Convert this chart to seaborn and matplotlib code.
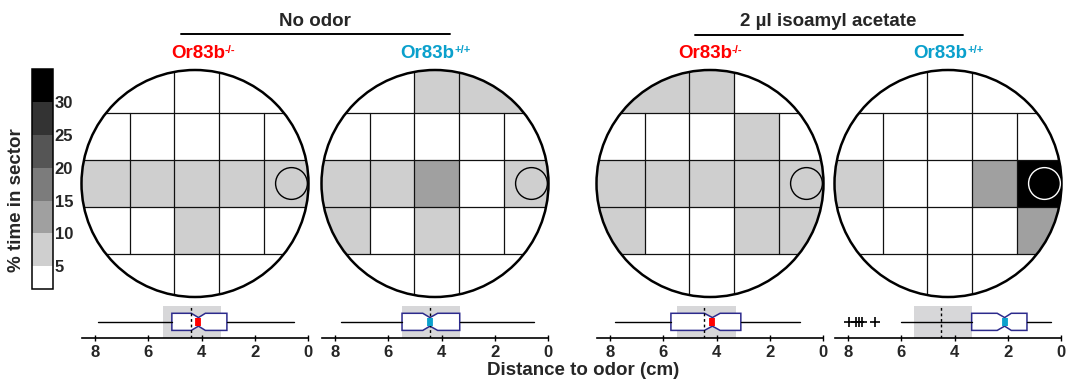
import numpy as np
import matplotlib
matplotlib.use("Agg")
import matplotlib.pyplot as plt
import seaborn as sns
from matplotlib.colors import ListedColormap, BoundaryNorm
from matplotlib.cm import ScalarMappable
from matplotlib.patches import Circle

# ------------------------------------------------------------------ data
condition_titles = ["No odor", "2 µl isoamyl acetate"]
genotype_names = ["Or83b", "Or83b", "Or83b", "Or83b"]
genotype_sups = ["-/-", "+/+", "-/-", "+/+"]
genotype_colors = ["#ff0000", "#0aa0cc", "#ff0000", "#0aa0cc"]

# % time in sector: top row (3 sectors), three middle rows (5 each), bottom row (3)
sector_no_odor_mut = [3, 4, 3,
                      3, 4, 4, 4, 3,
                      8, 8, 8, 8, 7,
                      3, 4, 8, 4, 3,
                      3, 4, 3]
sector_no_odor_wt = [4, 7, 6,
                     3, 4, 4, 4, 3,
                     7, 8, 12, 4, 6,
                     6, 4, 7, 3, 2,
                     1, 3, 2]
sector_iaa_mut = [6, 7, 3,
                  3, 3, 4, 7, 3,
                  7, 7, 7, 7, 7,
                  6, 3, 3, 7, 6,
                  2, 3, 2]
sector_iaa_wt = [2, 2, 2,
                 2, 2, 2, 3, 3,
                 7, 2, 3, 13, 33,
                 2, 2, 2, 4, 12,
                 1, 1, 2]
sector_data = [sector_no_odor_mut, sector_no_odor_wt, sector_iaa_mut, sector_iaa_wt]

cbar_bounds = [1.5, 5, 10, 15, 20, 25, 30, 35]
cbar_ticks = [5, 10, 15, 20, 25, 30]
cbar_label = "% time in sector"

# distance-to-odor box statistics (cm)
box_med = [4.12, 4.44, 4.16, 2.12]
box_q1 = [3.05, 3.32, 3.09, 1.28]
box_q3 = [5.12, 5.49, 5.72, 3.36]
box_cilo = [3.86, 4.15, 3.87, 1.87]
box_cihi = [4.39, 4.71, 4.46, 2.40]
box_whislo = [0.51, 0.53, 0.88, 0.38]
box_whishi = [7.90, 7.78, 7.81, 6.02]
box_fliers = [[], [], [], [7.00, 7.50, 7.59, 7.71, 7.96]]
null_lo = [3.26, 3.30, 3.27, 3.36]
null_hi = [5.46, 5.49, 5.50, 5.52]
null_med = [4.39, 4.44, 4.46, 4.50]
dist_ticks = [8, 6, 4, 2, 0]
dist_label = "Distance to odor (cm)"

# ------------------------------------------------------------------ style
sns.set_theme(style="white")
plt.rcParams["font.family"] = ["Liberation Sans", "DejaVu Sans"]
plt.rcParams["font.weight"] = "bold"

W, H = 1068, 381
fig = plt.figure(figsize=(W / 100, H / 100), dpi=100)
fig.patch.set_facecolor("white")


def px_axes(x0, y0, x1, y1, **kw):
    return fig.add_axes([x0 / W, 1 - y1 / H, (x1 - x0) / W, (y1 - y0) / H], **kw)


grey_colors = ["#ffffff", "#cfcfcf", "#a0a0a0", "#7c7c7c", "#555555", "#333333", "#000000"]
cmap = ListedColormap(grey_colors)
norm = BoundaryNorm(cbar_bounds, cmap.N, clip=True)

centers_x = [195, 435, 710, 948]
center_y = 183.5
r_px = 113.5
pad = 1.04

grid_shift = 0.015
x_edges = np.array([-1.0, -0.59, -0.197, 0.197, 0.59, 1.0]) + np.array([0, 1, 1, 1, 1, 0]) * grid_shift
y_edges = np.array([-1.0, -0.625, -0.21, 0.21, 0.625, 1.0])


def sectors_to_grid(vals):
    top = vals[0:3]
    mid = np.array(vals[3:18], dtype=float).reshape(3, 5)
    bot = vals[18:21]
    g = np.zeros((5, 5))
    g[0] = [bot[0], bot[0], bot[1], bot[2], bot[2]]
    g[1] = mid[2]
    g[2] = mid[1]
    g[3] = mid[0]
    g[4] = [top[0], top[0], top[1], top[2], top[2]]
    return g


for i, vals in enumerate(sector_data):
    cx = centers_x[i]
    R = r_px * pad
    ax = px_axes(cx - R, center_y - R, cx + R, center_y + R)
    ax.set_xlim(-pad, pad)
    ax.set_ylim(-pad, pad)
    ax.set_axis_off()
    grid = sectors_to_grid(vals)
    clip = Circle((0, 0), 1.0, transform=ax.transData)
    mesh = ax.pcolormesh(x_edges, y_edges, grid, cmap=cmap, norm=norm,
                         shading="flat", linewidth=0, antialiased=False)
    mesh.set_clip_path(clip)
    lc = "#111111"
    lw = 0.9
    for xv in x_edges[2:4]:
        ln, = ax.plot([xv, xv], [-1, 1], color=lc, lw=lw)
        ln.set_clip_path(clip)
    for xv in [x_edges[1], x_edges[4]]:
        ln, = ax.plot([xv, xv], [y_edges[1], y_edges[4]], color=lc, lw=lw)
        ln.set_clip_path(clip)
    for yv in y_edges[1:5]:
        ln, = ax.plot([-1, 1], [yv, yv], color=lc, lw=lw)
        ln.set_clip_path(clip)
    ax.add_patch(Circle((0, 0), 1.0, fill=False, ec="black", lw=1.8, zorder=5))
    odor_val = grid[2, 4]
    ax.add_patch(Circle((0.85, 0.0), 0.14, fill=False,
                        ec="white" if odor_val >= 25 else "black", lw=1.0, zorder=6))

    # box plot of distance to odor
    bx = px_axes(cx - 113, 306, cx + 113, 337.7)
    bx.set_facecolor("none")
    bx.axvspan(null_lo[i], null_hi[i], color="#d7d7d9", lw=0, zorder=0)
    stats = dict(med=box_med[i], q1=box_q1[i], q3=box_q3[i],
                 whislo=box_whislo[i], whishi=box_whishi[i],
                 fliers=box_fliers[i], cilo=box_cilo[i], cihi=box_cihi[i])
    kw = dict(positions=[1], widths=[0.54], patch_artist=True, shownotches=True,
              showcaps=False,
              boxprops=dict(facecolor="white", edgecolor="#2c2a8c", linewidth=1.1),
              whiskerprops=dict(color="black", linewidth=1.0),
              medianprops=dict(color=genotype_colors[i], linewidth=4.2, solid_capstyle="butt"),
              flierprops=dict(marker="+", markeredgecolor="black", markersize=7,
                              markeredgewidth=1.2, linestyle="none"),
              zorder=2)
    try:
        art = bx.bxp([stats], orientation="horizontal", **kw)
    except TypeError:
        art = bx.bxp([stats], vert=False, **kw)
    bx.axvline(null_med[i], color="black", lw=1.0, ls=(0, (2, 2)), zorder=3)
    for m in art["medians"]:
        m.set_zorder(4)
    bx.set_xlim(8.5, 0)
    bx.set_ylim(0.5, 1.5)
    bx.set_yticks([])
    bx.set_xticks(dist_ticks)
    bx.set_xticklabels([str(t) for t in dist_ticks])
    bx.tick_params(axis="x", direction="inout", length=5, width=1, pad=3, color="black",
                   bottom=True, labelsize=12)
    for t in bx.get_xticklabels():
        t.set_fontweight("bold")
    for s in ["left", "right", "top"]:
        bx.spines[s].set_visible(False)
    bx.spines["bottom"].set_color("black")
    bx.spines["bottom"].set_linewidth(1.2)

# colour bar
cax = px_axes(32, 69.3, 52.7, 289.3)
sm = ScalarMappable(norm=norm, cmap=cmap)
cb = fig.colorbar(sm, cax=cax, boundaries=cbar_bounds, ticks=cbar_ticks,
                  spacing="proportional")
cb.outline.set_edgecolor("black")
cb.outline.set_linewidth(1.1)
cax.minorticks_off()
cax.tick_params(which="both", length=0, pad=1.5, labelsize=12)
for t in cax.get_yticklabels():
    t.set_fontweight("bold")

# overlay for titles
ov = fig.add_axes([0, 0, 1, 1], zorder=10)
ov.set_xlim(0, W)
ov.set_ylim(H, 0)
ov.set_axis_off()
ov.patch.set_alpha(0)

ov.text(315, 26, condition_titles[0], ha="center", va="baseline", fontsize=13.5, fontweight="bold")
ov.plot([181, 450], [33.5, 33.5], color="black", lw=1.4)
ov.text(828, 26, condition_titles[1], ha="center", va="baseline", fontsize=13.5, fontweight="bold")
ov.plot([695, 963], [35, 35], color="black", lw=1.4)

label_cx = [198, 427.5, 705, 940.5]
for i in range(4):
    t = ov.text(label_cx[i], 58.3, genotype_names[i], ha="center", va="baseline",
                fontsize=13.5, fontweight="bold", color=genotype_colors[i])
    ov.annotate(genotype_sups[i], xy=(1, 1), xycoords=t, xytext=(-0.3, 0.5),
                textcoords="offset points", ha="left", va="top", fontsize=8,
                fontweight="bold", color=genotype_colors[i])

ov.text(17, 200, cbar_label, rotation=90, ha="center", va="center",
        fontsize=13.5, fontweight="bold")
ov.text(583, 375, dist_label, ha="center", va="baseline", fontsize=13.5, fontweight="bold")

fig.savefig("out.png", dpi=100)
